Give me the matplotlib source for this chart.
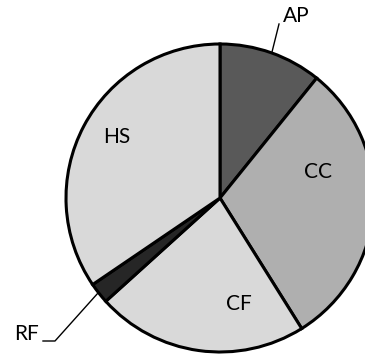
import matplotlib
matplotlib.use("Agg")
import matplotlib.pyplot as plt

labels = ["AP", "CC", "CF", "RF", "HS"]
values = [10.8, 30.3, 22.2, 2.2, 34.5]
colors = ["#595959", "#afafaf", "#d9d9d9", "#262626", "#d9d9d9"]

W, H = 365, 354
fig = plt.figure(figsize=(W / 100, H / 100), dpi=100)
ax = fig.add_axes([0, 0, 1, 1])

cx, cy, r = 220, H - 198, 154
wedges, _ = ax.pie(values, colors=colors, startangle=90, counterclock=False,
                   center=(cx, cy), radius=r, frame=True,
                   wedgeprops=dict(edgecolor="black", linewidth=2.2))
ax.set_xlim(0, W)
ax.set_ylim(0, H)
ax.set_aspect("equal")
ax.axis("off")

font = dict(family=["Lato", "DejaVu Sans"], fontsize=15, color="black",
            ha="center", va="center")
# inside labels (pixel coords, y from top)
ax.text(117, H - 137, labels[4], **font)
ax.text(318, H - 172, labels[1], **font)
ax.text(239, H - 304, labels[2], **font)
# outside labels with leader lines
ax.text(296, H - 16, labels[0], **font)
ax.plot([272, 279], [H - 52, H - 24], color="black", lw=1)
ax.text(26, H - 334, labels[3], **font)
ax.plot([98, 55, 43], [H - 293, H - 341, H - 341], color="black", lw=1)

fig.savefig("out.png", dpi=100)
